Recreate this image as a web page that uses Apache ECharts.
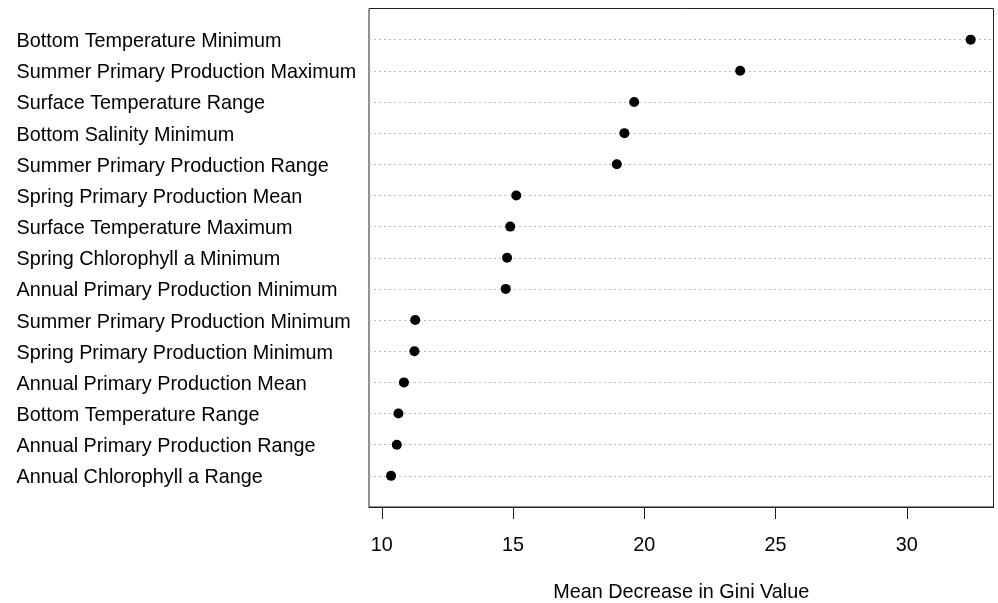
<!DOCTYPE html>
<html>
<head>
<meta charset="utf-8">
<script src="https://cdn.jsdelivr.net/npm/echarts@6/dist/echarts.min.js"></script>
<style>
html,body{margin:0;padding:0;background:#fff;}
#chart{width:998px;height:603px;}
</style>
</head>
<body>
<div id="chart"></div>
<script>
// Variables, top to bottom
var categories = [
  "Bottom Temperature Minimum",
  "Summer Primary Production Maximum",
  "Surface Temperature Range",
  "Bottom Salinity Minimum",
  "Summer Primary Production Range",
  "Spring Primary Production Mean",
  "Surface Temperature Maximum",
  "Spring Chlorophyll a Minimum",
  "Annual Primary Production Minimum",
  "Summer Primary Production Minimum",
  "Spring Primary Production Minimum",
  "Annual Primary Production Mean",
  "Bottom Temperature Range",
  "Annual Primary Production Range",
  "Annual Chlorophyll a Range"
];
var giniValues = [32.43, 23.65, 19.61, 19.24, 18.95, 15.12, 14.89, 14.77, 14.72, 11.27, 11.24, 10.84, 10.63, 10.57, 10.35];
var xTicks = [10, 15, 20, 25, 30];
var xTitle = "Mean Decrease in Gini Value";

var n = categories.length;
var FONT = "'Liberation Sans', Arial, sans-serif";
var FS = 19.8;

var chart = echarts.init(document.getElementById('chart'), null, {renderer: 'canvas'});
var option = {
  animation: false,
  backgroundColor: '#fff',
  grid: {
    left: 369, right: 4.5, top: 8.5, bottom: 96,
    outerBoundsMode: 'none',
    containLabel: false,
    show: true, borderColor: '#222', borderWidth: 1, backgroundColor: 'transparent'
  },
  xAxis: {
    type: 'value',
    min: 9.51, max: 33.3,
    name: xTitle,
    nameLocation: 'middle',
    nameGap: 76,
    nameTextStyle: {fontFamily: FONT, fontSize: FS, color: '#000'},
    axisLine: {show: true, lineStyle: {color: '#222', width: 1}},
    axisTick: {show: true, length: 12, customValues: xTicks, lineStyle: {color: '#222', width: 1}},
    axisLabel: {show: true, customValues: xTicks, margin: 29, fontFamily: FONT, fontSize: FS, color: '#000'},
    splitLine: {show: false}
  },
  yAxis: {
    type: 'value',
    min: 0, max: n + 1, interval: 1,
    axisLine: {show: false},
    axisTick: {show: false},
    splitLine: {show: false},
    axisLabel: {
      show: true,
      align: 'left',
      margin: 352.5,
      fontFamily: FONT, fontSize: FS, color: '#000',
      rich: {
        a: {fontFamily: FONT, fontSize: FS, color: '#000', padding: [4, 0, 0, 0]}
      },
      formatter: function (v) {
        var idx = n - v;
        if (v < 1 || v > n) return '';
        return '{a|' + categories[idx] + '}';
      }
    }
  },
  series: [{
    type: 'scatter',
    symbol: 'circle',
    symbolSize: 10,
    itemStyle: {color: '#000', opacity: 1},
    data: giniValues.map(function (v, i) { return [v, n - i]; }),
    z: 5,
    markLine: {
      silent: true,
      symbol: ['none', 'none'],
      label: {show: false},
      lineStyle: {color: '#bdbdbd', type: [2, 3], width: 1},
      data: categories.map(function (c, i) { return {yAxis: n - i}; }),
      z: 1
    }
  }]
};
chart.setOption(option);
</script>
</body>
</html>
